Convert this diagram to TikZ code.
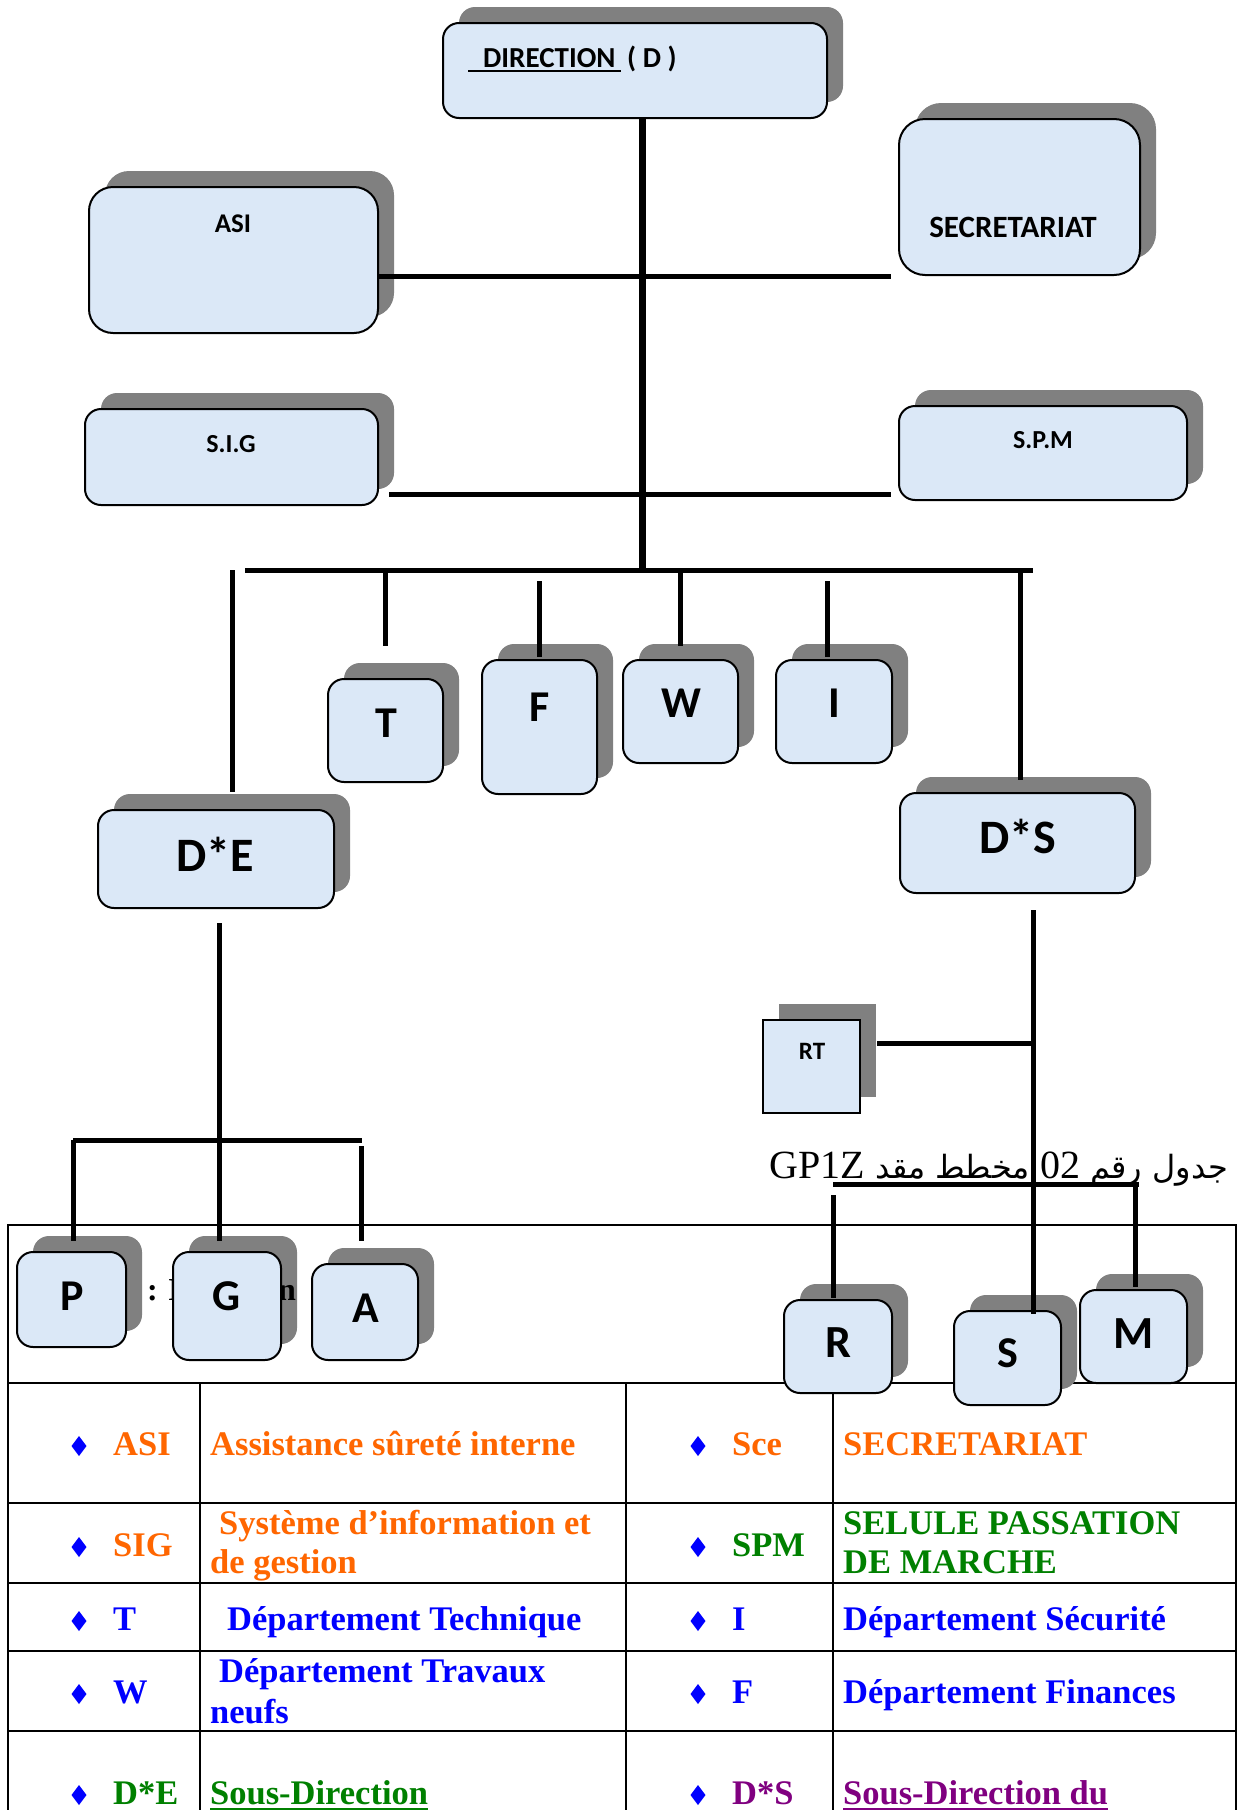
\documentclass[tikz,border=0pt]{standalone}
\usepackage{fontspec}
\usetikzlibrary{shadows,calc}
\newfontfamily\carlito{Carlito}
\newfontfamily\timesf{Liberation Serif}
\newfontfamily\arabicfont[Script=Arabic]{DejaVu Sans}
\TeXXeTstate=1
\definecolor{boxblue}{RGB}{219,232,247}
\definecolor{shade}{RGB}{128,128,128}
\definecolor{orng}{RGB}{255,102,0}
\definecolor{grn}{RGB}{0,128,0}
\definecolor{blu}{RGB}{0,0,255}
\definecolor{purp}{RGB}{128,0,128}

\begin{document}
\begin{tikzpicture}[x=1pt,y=-1pt,
  unitbox/.style={draw=black, line width=2pt, fill=boxblue, rounded corners=#1, inner sep=0pt,
    general shadow={fill=shade, shadow xshift=16pt, shadow yshift=16pt}},
  unitbox/.default=16pt,
  conn/.style={line width=5pt, black},
  trunk/.style={line width=7pt, black},
  grid/.style={line width=1.5pt, black},
  uline/.style={line width=2.5pt},
  boxtxt/.style={inner sep=0pt, anchor=base, font=\carlito\bfseries\fontsize{#1}{#1}\selectfont},
  tabtxt/.style={inner sep=0pt, anchor=base west, text=#1, font=\timesf\bfseries\fontsize{34.5}{34.5}\selectfont},
  bullet/.pic={\fill[blu] (0,-10) -- (7.5,0) -- (0,10) -- (-7.5,0) -- cycle;}
]
\useasboundingbox (0,0) rectangle (1239,1810);
\clip (0,0) rectangle (1239,1810);
\fill[white] (0,0) rectangle (1239,1810);

% ---------- legend table ----------
\draw[grid] (8,1840) -- (8,1225) -- (1236,1225) -- (1236,1840);
\foreach \yy in {1383,1503,1583,1651,1731} \draw[grid] (8,\yy) -- (1236,\yy);
\foreach \xx in {200,626,833} \draw[grid] (\xx,1383) -- (\xx,1840);

\foreach \yy in {1446,1547,1621,1694,1795} {
  \pic at (79,\yy) {bullet};
  \pic at (698,\yy) {bullet};
}

\node[tabtxt=orng] (kASI) at (113,1455) {ASI};
\node[tabtxt=orng] (vASI) at (210,1455) {Assistance sûreté interne};
\node[tabtxt=orng] (kSce) at (732,1455) {Sce};
\node[tabtxt=orng] (vSce) at (843,1455) {SECRETARIAT};
\node[tabtxt=orng] (kSIG) at (113,1556) {SIG};
\node[tabtxt=orng] (vSIGa) at (219,1534) {Système d’information et};
\node[tabtxt=orng] (vSIGb) at (210,1573) {de gestion};
\node[tabtxt=grn] (kSPM) at (732,1556) {SPM};
\node[tabtxt=grn] (vSPMa) at (843,1534) {SELULE PASSATION};
\node[tabtxt=grn] (vSPMb) at (843,1573) {DE MARCHE};
\node[tabtxt=blu] (kT) at (113,1630) {T};
\node[tabtxt=blu] (vT) at (227,1630) {Département Technique};
\node[tabtxt=blu] (kI) at (732,1630) {I};
\node[tabtxt=blu] (vI) at (843,1630) {Département Sécurité};
\node[tabtxt=blu] (kW) at (113,1703) {W};
\node[tabtxt=blu] (vWa) at (219,1682) {Département Travaux};
\node[tabtxt=blu] (vWb) at (210,1723) {neufs};
\node[tabtxt=blu] (kF) at (732,1703) {F};
\node[tabtxt=blu] (vF) at (843,1703) {Département Finances};
\node[tabtxt=grn] (kDE) at (113,1804) {D*E};
\node[tabtxt=grn] (vDE) at (210,1804) {Sous-Direction};
\node[tabtxt=purp] (kDS) at (732,1804) {D*S};
\node[tabtxt=purp] (vDS) at (843,1804) {Sous-Direction du};
\draw[grn, uline] ($(vDE.base west)+(0,5)$) -- ($(vDE.base east)+(0,5)$);
\draw[purp, uline] ($(vDS.base west)+(0,5)$) -- ($(vDS.base east)+(0,5)$);

% ---------- caption of the chart ----------
\node[inner sep=0pt, anchor=base east] (tabcap) at (1228,1178)
  {\arabicfont\fontsize{32}{32}\selectfont\beginR جدول رقم {\timesf\fontsize{40}{40}\selectfont\beginL 02\endL} مخطط مقد {\timesf\fontsize{40}{40}\selectfont\beginL GP1Z\endL}\endR};

% ---------- units ----------
\node[unitbox, minimum width=384, minimum height=95] (dir) at (635,70.5) {};
\node[unitbox=24pt, minimum width=289, minimum height=146] (asi) at (233.5,260) {};
\node[unitbox=26pt, minimum width=241, minimum height=156] (sec) at (1019.5,197) {};
\node[unitbox, minimum width=293, minimum height=96] (sig) at (231.5,457) {};
\node[unitbox, minimum width=288, minimum height=94] (spm) at (1043,453) {};
\node[unitbox, minimum width=115, minimum height=103] (bT) at (385.5,730.5) {};
\node[unitbox, minimum width=115, minimum height=134] (bF) at (539.5,727) {};
\node[unitbox, minimum width=115, minimum height=103] (bW) at (680.5,711.5) {};
\node[unitbox, minimum width=116, minimum height=103] (bI) at (834,711.5) {};
\node[unitbox, minimum width=236, minimum height=98] (de) at (216,859) {};
\node[unitbox, minimum width=235, minimum height=100] (ds) at (1017.5,843) {};
\node[unitbox, sharp corners, minimum width=97, minimum height=93] (rt) at (811.5,1066.5) {};
\node[unitbox, minimum width=109, minimum height=95] (bP) at (71.5,1299.5) {};
\node[unitbox, minimum width=108, minimum height=108] (bG) at (227,1306) {};
\node[unitbox, minimum width=106, minimum height=96] (bA) at (365,1312) {};
\node[unitbox, minimum width=108, minimum height=93] (bR) at (838,1346.5) {};
\node[unitbox, minimum width=107, minimum height=94] (bS) at (1007.5,1358) {};
\node[unitbox, minimum width=107, minimum height=93] (bM) at (1133.5,1336.5) {};

% table title, mostly hidden by the P, G and A boxes: only the gaps show it
\begin{scope}
  \clip (141,1240) rectangle (173,1340) (282,1240) rectangle (311,1340);
  \node[inner sep=0pt, anchor=base west, font=\timesf\bfseries\fontsize{32}{32}\selectfont] (figcap) at (147,1300) {: Direction};
\end{scope}

% ---------- unit labels ----------
\node[boxtxt=29, anchor=base west] (dirword) at (483,67) {DIRECTION};
\node[boxtxt=29, anchor=base west] (dirD) at (627,67) {( D )};
\draw[uline] ($(dirword.base west)+(-15,4)$) -- ($(dirword.base east)+(5,4)$);
\node[boxtxt=27] (asiT) at (233,232) {ASI};
\node[boxtxt=31] (secT) at (1013,237) {SECRETARIAT};
\node[boxtxt=26] (sigT) at (231,452) {S.I.G};
\node[boxtxt=26] (spmT) at (1043,448) {S.P.M};
\node[boxtxt=44] (tT) at (386,737) {T};
\node[boxtxt=44] (fT) at (540,721) {F};
\node[boxtxt=44] (wT) at (681,717) {W};
\node[boxtxt=44] (iT) at (834,717) {I};
\node[boxtxt=48] (deT) at (215,871) {D*E};
\node[boxtxt=48] (dsT) at (1018,853) {D*S};
\node[boxtxt=25] (rtT) at (812,1059) {RT};
\node[boxtxt=44] (pT) at (72,1310) {P};
\node[boxtxt=44] (gT) at (227,1310) {G};
\node[boxtxt=44] (aT) at (366,1322) {A};
\node[boxtxt=46] (rT) at (838,1357) {R};
\node[boxtxt=44] (sT) at (1008,1367) {S};
\node[boxtxt=46] (mT) at (1134,1348) {M};

% ---------- connectors ----------
\coordinate (busW) at (245,570);
\coordinate (busE) at (1033,570);
\coordinate (deBarW) at (73,1140);
\coordinate (deBarE) at (362,1140);
\coordinate (rsmW) at (833,1184);
\coordinate (rsmE) at (1139,1184);

\draw[trunk] ([xshift=7pt]dir.south) -- ([xshift=7pt]dir.south |- busE);
\draw[conn] (asi.east |- sec.south) -- ([xshift=-7pt]sec.south west);
\draw[conn] ([xshift=10pt,yshift=12pt]sig.south east) -- ([xshift=-7pt,yshift=7pt]spm.south west);
\draw[conn] (busW) -- (busE);
\draw[conn] ([xshift=16pt]de.north |- busW) -- ([xshift=16pt,yshift=17pt]de.north);
\draw[conn] (bT.north |- busW) -- ([yshift=32pt]bT.north);
\draw[conn] ([yshift=78pt]bF.north) -- ([yshift=2pt]bF.north);
\draw[conn] (bW.north |- busW) -- ([yshift=13pt]bW.north);
\draw[conn] ([xshift=-7pt,yshift=78pt]bI.north) -- ([xshift=-7pt,yshift=2pt]bI.north);
\draw[conn] ([xshift=2.5pt]ds.north |- busE) -- ([xshift=2.5pt,yshift=12pt]ds.north);

\draw[conn] ([xshift=3pt,yshift=-14pt]de.south) -- ([xshift=-8pt,yshift=10pt]bG.north);
\draw[conn] (deBarW) -- (deBarE);
\draw[conn] (deBarW) -- ([xshift=1.5pt,yshift=10pt]bP.north);
\draw[conn] ([xshift=-4pt,yshift=117pt]bA.north) -- ([xshift=-4pt,yshift=22pt]bA.north);

\draw[conn] ([xshift=15.5pt,yshift=-16pt]ds.south) -- ([xshift=25.5pt,yshift=-4pt]bS.north);
\draw[conn] ([xshift=16pt,yshift=23.5pt]rt.east) -- ([xshift=15.5pt,yshift=23.5pt]rt.east -| ds.south);
\draw[conn] (rsmW) -- (rsmE);
\draw[conn] ([yshift=-11pt]rsmW) -- ([xshift=-5pt,yshift=1pt]bR.north);
\draw[conn] ([xshift=1.5pt]bM.north |- rsmE) -- ([xshift=1.5pt,yshift=2pt]bM.north);
\end{tikzpicture}
\end{document}
